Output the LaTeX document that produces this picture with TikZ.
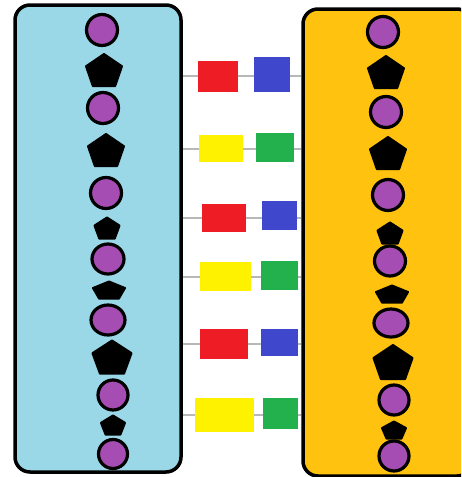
\documentclass[tikz,border=0pt]{standalone}
\usetikzlibrary{shapes.geometric}
\definecolor{lblue}{HTML}{9AD8E8}
\definecolor{gold}{HTML}{FFC20E}
\definecolor{purp}{HTML}{A64DB3}
\definecolor{pred}{HTML}{EE1C24}
\definecolor{pblue}{HTML}{3F48CC}
\definecolor{pyellow}{HTML}{FFF200}
\definecolor{pgreen}{HTML}{22B14C}
\definecolor{conngray}{HTML}{B8B8B8}
\tikzset{
  strandbox/.style={draw=black, line width=3.5pt, rounded corners=15pt, inner sep=0pt},
  bead/.style={ellipse, draw=black, fill=purp, line width=3.2pt, inner sep=0pt},
  pentstyle/.style={fill=black, draw=black, line width=2pt, line join=round},
  block/.style={rectangle, inner sep=0pt, draw=none},
  conn/.style={draw=conngray, line width=2pt},
}
% pentagon: centre x, centre y, width, height
\newcommand\pentg[4]{%
  \filldraw[pentstyle, shift={(#1,#2+0.0528*#4)}, xscale=#3/1.902-0.5, yscale=#4/1.809-0.5]
    (0,-1) -- (0.951,-0.309) -- (0.588,0.809) -- (-0.588,0.809) -- (-0.951,-0.309) -- cycle;}
\newcommand\beadn[5]{\node[bead, minimum width=#4pt, minimum height=#5pt] (#1) at (#2,#3) {};}
\begin{document}
\begin{tikzpicture}[x=1pt,y=-1pt]
\useasboundingbox (0,0) rectangle (461,477);
\clip (0,0) rectangle (461,477);
% strands
\node[strandbox, fill=lblue, minimum width=166pt, minimum height=467pt] (L) at (98,238.5) {};
\node[strandbox, fill=gold, minimum width=169pt, minimum height=467pt] (R) at (387.5,242.5) {};
% left chain
\beadn{lc1}{102}{30}{31}{31}
\pentg{104}{70}{37}{33}
\beadn{lc2}{103}{108}{31}{31}
\pentg{106}{150}{37}{33}
\beadn{lc3}{106}{193}{31}{31}
\pentg{107}{228}{26}{22}
\beadn{lc4}{108}{259}{32}{30}
\pentg{109}{290}{33}{18}
\beadn{lc5}{108}{320}{34}{30}
\pentg{112}{357}{40}{34}
\beadn{lc6}{113}{395}{30}{30}
\pentg{113}{425}{25}{20}
\beadn{lc7}{113}{454}{29}{29}
% right chain
\beadn{rc1}{383}{32}{31}{31}
\pentg{386}{72}{37}{33}
\beadn{rc2}{386}{112}{31}{31}
\pentg{388}{153}{37}{33}
\beadn{rc3}{388}{195}{31}{31}
\pentg{390}{233}{26}{22}
\beadn{rc4}{390}{261}{31}{30}
\pentg{392}{294}{33}{18}
\beadn{rc5}{391}{323}{34}{28}
\pentg{393}{362}{40}{35}
\beadn{rc6}{394}{400}{30}{30}
\pentg{394}{430}{25}{18}
\beadn{rc7}{394}{456}{30}{30}
% blocks
\node[block, fill=pred,    minimum width=40pt, minimum height=31pt] (a1) at (218,76) {};
\node[block, fill=pblue,   minimum width=36pt, minimum height=35pt] (b1) at (272,74) {};
\node[block, fill=pyellow, minimum width=44pt, minimum height=27pt] (a2) at (221,148.5) {};
\node[block, fill=pgreen,  minimum width=38pt, minimum height=29pt] (b2) at (275,147.5) {};
\node[block, fill=pred,    minimum width=44pt, minimum height=28pt] (a3) at (224,218) {};
\node[block, fill=pblue,   minimum width=35pt, minimum height=29pt] (b3) at (279.5,215.5) {};
\node[block, fill=pyellow, minimum width=51pt, minimum height=29pt] (a4) at (225.5,276.5) {};
\node[block, fill=pgreen,  minimum width=37pt, minimum height=29pt] (b4) at (279.5,275.5) {};
\node[block, fill=pred,    minimum width=48pt, minimum height=30pt] (a5) at (224,344) {};
\node[block, fill=pblue,   minimum width=37pt, minimum height=27pt] (b5) at (279.5,342.5) {};
\node[block, fill=pyellow, minimum width=59pt, minimum height=34pt] (a6) at (224.5,415) {};
\node[block, fill=pgreen,  minimum width=35pt, minimum height=31pt] (b6) at (280.5,413.5) {};
% connectors
\foreach \i in {1,...,6}{
  \draw[conn] (L.east |- a\i.west) -- (a\i.west);
  \draw[conn] (a\i.east) -- (b\i.west |- a\i.east);
  \draw[conn] (b\i.east |- a\i.east) -- (R.west |- a\i.east);
}
\end{tikzpicture}
\end{document}
